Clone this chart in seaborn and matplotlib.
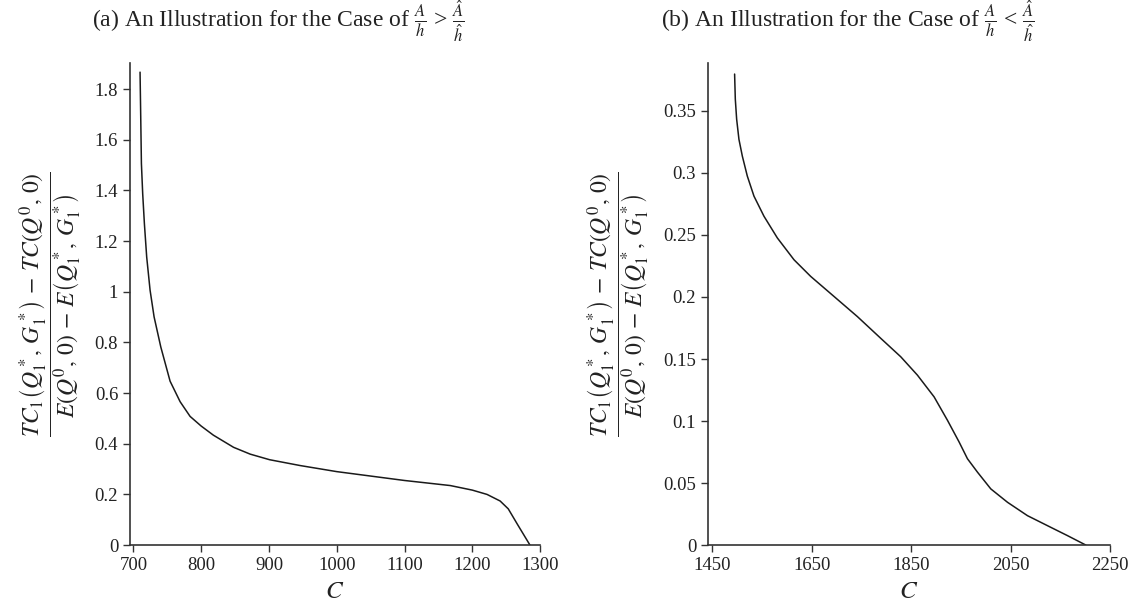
import numpy as np
import pandas as pd
import matplotlib
matplotlib.use("Agg")
import matplotlib.pyplot as plt
import seaborn as sns

# values
c_a = [709.9, 710.9, 711.9, 713.8, 716.3, 719.7, 724.7, 730.6, 740.5, 754.2, 769, 783.7, 800,
       818, 847.8, 872.4, 901, 946, 1000, 1100, 1167.5, 1200, 1221.7, 1241, 1253, 1266.5, 1285]
r_a = [1.867, 1.690, 1.506, 1.387, 1.269, 1.137, 1.006, 0.901, 0.782, 0.647, 0.566, 0.508, 0.470,
       0.434, 0.386, 0.359, 0.337, 0.314, 0.290, 0.255, 0.235, 0.217, 0.200, 0.174, 0.143, 0.082, 0.0]

c_b = [1494.9, 1496.3, 1499.0, 1503.6, 1510.4, 1520.4, 1533.8, 1553.9, 1580.8, 1614.3, 1647.8,
       1694.8, 1741.7, 1788.6, 1828.9, 1862.4, 1895.9, 1922.8, 1946.2, 1963.0, 1983.1, 2009.9,
       2043.5, 2083.7, 2130.6, 2164.2, 2201.0]
r_b = [0.3797, 0.3595, 0.3433, 0.3271, 0.3136, 0.2975, 0.2813, 0.2651, 0.2476, 0.2300, 0.2166,
       0.2004, 0.1842, 0.1667, 0.1518, 0.1370, 0.1195, 0.1006, 0.0831, 0.0696, 0.0588, 0.0453,
       0.0345, 0.0237, 0.0143, 0.0076, 0.0]

xticks_a = [700, 800, 900, 1000, 1100, 1200, 1300]
yticks_a = [0, 0.2, 0.4, 0.6, 0.8, 1.0, 1.2, 1.4, 1.6, 1.8]
yticklabels_a = ["0", "0.2", "0.4", "0.6", "0.8", "1", "1.2", "1.4", "1.6", "1.8"]
xticks_b = [1450, 1650, 1850, 2050, 2250]
yticks_b = [0, 0.05, 0.1, 0.15, 0.2, 0.25, 0.3, 0.35]
yticklabels_b = ["0", "0.05", "0.1", "0.15", "0.2", "0.25", "0.3", "0.35"]

title_a = r"(a) An Illustration for the Case of $\frac{A}{h}$ > $\frac{\hat{A}}{\hat{h}}$"
title_b = r"(b) An Illustration for the Case of $\frac{A}{h}$ < $\frac{\hat{A}}{\hat{h}}$"
ylab = (r"$\dfrac{TC_1\left(Q_1^*,\, G_1^*\right)\, -\, TC\left(Q^0,\, 0\right)}"
        r"{E\left(Q^0,\, 0\right)\, -\, E\left(Q_1^*,\, G_1^*\right)}$")

sns.set_theme(style="ticks")
plt.rcParams["font.family"] = ["Liberation Serif", "DejaVu Serif"]
plt.rcParams["mathtext.fontset"] = "stix"

df_a = pd.DataFrame({"C": c_a, "R": r_a})
df_b = pd.DataFrame({"C": c_b, "R": r_b})

fig = plt.figure(figsize=(11.3, 6.07), dpi=100)
ax1 = fig.add_axes([0.115, 0.102, 0.363, 0.795])
ax2 = fig.add_axes([0.6265, 0.102, 0.356, 0.795])

sns.lineplot(data=df_a, x="C", y="R", ax=ax1, color="#1a1a1a", linewidth=1.1, sort=False)
sns.lineplot(data=df_b, x="C", y="R", ax=ax2, color="#1a1a1a", linewidth=1.1, sort=False)

ax1.set_xlim(695, 1300)
ax1.set_ylim(0, 1.905)
ax1.set_xticks(xticks_a)
ax1.set_yticks(yticks_a)
ax1.set_yticklabels(yticklabels_a)

ax2.set_xlim(1441.3, 2250)
ax2.set_ylim(0, 0.389)
ax2.set_xticks(xticks_b)
ax2.set_yticks(yticks_b)
ax2.set_yticklabels(yticklabels_b)

for ax in (ax1, ax2):
    sns.despine(ax=ax)
    ax.spines["left"].set_color("#333333")
    ax.spines["bottom"].set_color("#333333")
    ax.spines["left"].set_linewidth(1.2)
    ax.spines["bottom"].set_linewidth(1.2)
    ax.tick_params(direction="out", length=5, width=1.0, colors="#333333",
                   labelsize=13.5, labelcolor="#222222")
    ax.set_xlabel("$C$", fontsize=18, labelpad=5, color="#222222")
    ax.set_ylabel(ylab, fontsize=17, labelpad=8, color="#222222")

fig.text(278 / 1130, 1 - 22 / 607, title_a, ha="center", va="center", fontsize=17, color="#222222")
fig.text(848 / 1130, 1 - 22 / 607, title_b, ha="center", va="center", fontsize=17, color="#222222")

fig.savefig("out.png", dpi=100)
